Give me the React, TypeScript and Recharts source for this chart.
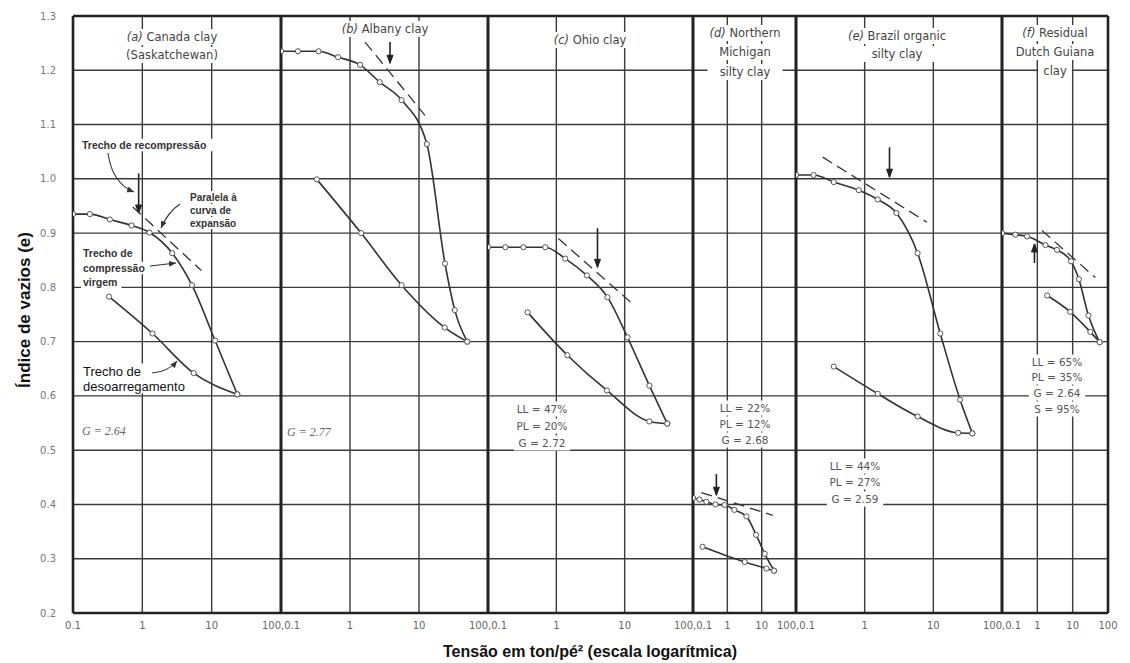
import React from "react";
import { LineChart, Line, XAxis, YAxis, ReferenceLine } from "recharts";

// shared axes
const yTicks = [0.2, 0.3, 0.4, 0.5, 0.6, 0.7, 0.8, 0.9, 1.0, 1.1, 1.2, 1.3];
const yGrid = [0.3, 0.4, 0.5, 0.6, 0.7, 0.8, 0.9, 1.0, 1.1, 1.2];
const xGrid = [1, 10];
const xTicksFirst = [0.1, 1, 10, 100];
const xTicksRest = [1, 10, 100];

// (a) Canada clay (Saskatchewan)
const aLoadX = [0.1, 0.175, 0.34, 0.7, 1.27, 2.7, 5.2, 11.2, 23.4];
const aLoadE = [0.935, 0.935, 0.925, 0.914, 0.901, 0.863, 0.804, 0.702, 0.603];
const aUnloadX = [0.33, 1.4, 5.5, 23.4];
const aUnloadE = [0.783, 0.715, 0.642, 0.603];
const aTangentX = [0.73, 7.1];
const aTangentE = [0.948, 0.831];
const aArrowX = [0.885, 0.885];
const aArrowE = [1.01, 0.937];

// (b) Albany clay
const bLoadX = [0.1, 0.176, 0.35, 0.67, 1.4, 2.7, 5.6, 13, 23.8, 33, 50];
const bLoadE = [1.235, 1.235, 1.235, 1.224, 1.21, 1.178, 1.145, 1.064, 0.844, 0.758, 0.7];
const bUnloadX = [0.33, 1.45, 5.6, 23.6, 50];
const bUnloadE = [0.999, 0.9, 0.804, 0.726, 0.7];
const bTangentX = [1.65, 12.2];
const bTangentE = [1.252, 1.117];
const bArrowX = [3.8, 3.8];
const bArrowE = [1.252, 1.213];

// (c) Ohio clay
const cLoadX = [0.1, 0.18, 0.33, 0.69, 1.35, 2.8, 5.6, 11, 23, 42];
const cLoadE = [0.874, 0.874, 0.874, 0.874, 0.853, 0.822, 0.782, 0.708, 0.619, 0.549];
const cUnloadX = [0.38, 1.45, 5.5, 23, 42];
const cUnloadE = [0.754, 0.675, 0.61, 0.553, 0.549];
const cTangentX = [1.07, 13];
const cTangentE = [0.89, 0.77];
const cArrowX = [4, 4];
const cArrowE = [0.909, 0.837];

// (d) Northern Michigan silty clay
const dLoadX = [0.1, 0.155, 0.245, 0.45, 0.83, 1.6, 3.6, 6.9, 12.3, 23];
const dLoadE = [0.412, 0.409, 0.405, 0.4, 0.399, 0.39, 0.378, 0.344, 0.309, 0.278];
const dUnloadX = [0.19, 3.2, 13.8, 23];
const dUnloadE = [0.322, 0.294, 0.282, 0.278];
const dTangentX = [0.175, 21];
const dTangentE = [0.422, 0.38];
const dArrowX = [0.48, 0.48];
const dArrowE = [0.456, 0.417];

// (e) Brazil organic silty clay
const eLoadX = [0.1, 0.18, 0.355, 0.82, 1.55, 2.9, 5.9, 12.6, 24.5, 37];
const eLoadE = [1.007, 1.007, 0.994, 0.979, 0.962, 0.937, 0.863, 0.715, 0.593, 0.531];
const eUnloadX = [0.355, 1.55, 5.9, 23, 37];
const eUnloadE = [0.654, 0.604, 0.562, 0.532, 0.531];
const eTangentX = [0.245, 8.1];
const eTangentE = [1.04, 0.92];
const eArrowX = [2.3, 2.3];
const eArrowE = [1.058, 1.003];

// (f) Residual Dutch Guiana clay
const fLoadX = [0.1, 0.24, 0.51, 1.7, 3.6, 9, 15, 28, 58];
const fLoadE = [0.9, 0.897, 0.894, 0.878, 0.869, 0.848, 0.815, 0.748, 0.699];
const fUnloadX = [1.9, 8.5, 31.6, 58];
const fUnloadE = [0.785, 0.755, 0.718, 0.699];
const fTangentX = [1.35, 44];
const fTangentE = [0.905, 0.818];
const fArrowX = [0.83, 0.83];
const fArrowE = [0.845, 0.88];

const pts = (xs: number[], es: number[]) => xs.map((x, i) => ({ x, e: es[i] }));

const panels = [
  { id: "a", left: 73, right: 281, load: pts(aLoadX, aLoadE), unload: pts(aUnloadX, aUnloadE), tangent: pts(aTangentX, aTangentE), arrow: pts(aArrowX, aArrowE) },
  { id: "b", left: 281, right: 488, load: pts(bLoadX, bLoadE), unload: pts(bUnloadX, bUnloadE), tangent: pts(bTangentX, bTangentE), arrow: pts(bArrowX, bArrowE) },
  { id: "c", left: 488, right: 693, load: pts(cLoadX, cLoadE), unload: pts(cUnloadX, cUnloadE), tangent: pts(cTangentX, cTangentE), arrow: pts(cArrowX, cArrowE) },
  { id: "d", left: 693, right: 796, load: pts(dLoadX, dLoadE), unload: pts(dUnloadX, dUnloadE), tangent: pts(dTangentX, dTangentE), arrow: pts(dArrowX, dArrowE) },
  { id: "e", left: 796, right: 1002, load: pts(eLoadX, eLoadE), unload: pts(eUnloadX, eUnloadE), tangent: pts(eTangentX, eTangentE), arrow: pts(eArrowX, eArrowE) },
  { id: "f", left: 1002, right: 1108, load: pts(fLoadX, fLoadE), unload: pts(fUnloadX, fUnloadE), tangent: pts(fTangentX, fTangentE), arrow: pts(fArrowX, fArrowE) },
];

const titles: [number, number, string, string][] = [
  [172, 37, "(a)", " Canada clay"], [172, 55, "", "(Saskatchewan)"],
  [385, 29, "(b)", " Albany clay"],
  [590, 40, "(c)", " Ohio clay"],
  [745, 33, "(d)", " Northern"], [745, 52, "", "Michigan"], [745, 72, "", "silty clay"],
  [897, 36, "(e)", " Brazil organic"], [897, 54, "", "silty clay"],
  [1055, 33, "(f)", " Residual"], [1055, 52, "", "Dutch Guiana"], [1055, 71, "", "clay"],
];

const props: [number, number, string][] = [
  [542, 409, "LL = 47%"], [542, 426, "PL = 20%"], [542, 443, "G = 2.72"],
  [745, 408, "LL = 22%"], [745, 424, "PL = 12%"], [745, 440, "G = 2.68"],
  [855, 466, "LL = 44%"], [855, 482, "PL = 27%"], [855, 499, "G = 2.59"],
  [1057, 362, "LL = 65%"], [1057, 377, "PL = 35%"], [1057, 393, "G = 2.64"], [1057, 409, "S = 95%"],
];

const notes: [number, number, string, number, number][] = [
  [82, 145, "Trecho de recompressão", 10.5, 700],
  [190, 197, "Paralela à", 10, 700], [190, 210, "curva de", 10, 700], [190, 223, "expansão", 10, 700],
  [83, 253, "Trecho de", 10.5, 700], [83, 268, "compressão", 10.5, 700], [83, 282, "virgem", 10.5, 700],
  [83, 371, "Trecho de", 13, 400], [83, 386, "desoarregamento", 13, 400],
];

const leaders = [
  "M108,153 Q112,183 134,192",
  "M180,204 Q168,212 161,228",
  "M150,266 L176,263",
  "M152,373 Q168,372 177,361",
];

const makeArrowDot = (down: boolean) => (p: any) => {
  const { cx, cy, index } = p;
  if (index !== 1) return <g key={`ad${index}`} />;
  const d = down ? 1 : -1;
  return (
    <path key={`ad${index}`} d={`M${cx},${cy} L${cx - 3},${cy - 8 * d} L${cx + 3},${cy - 8 * d} Z`} fill="#222" stroke="#222" />
  );
};

const YTick = ({ x, y, payload }: any) => (
  <text x={x} y={y} dy={3.5} textAnchor="end" fontSize={10} fill="#777" fontFamily="DejaVu Sans">
    {payload.value.toFixed(1)}
  </text>
);

const makeXTick = (last: boolean) => ({ x, y, payload }: any) => {
  const v = payload.value;
  const label = v >= 100 ? (last ? "100" : "100,0.1") : v < 1 ? "0.1" : String(v);
  return (
    <text x={x} y={y + 16} textAnchor="middle" fontSize={10} fill="#666" fontFamily="DejaVu Sans">
      {label}
    </text>
  );
};

const PAD = 30;
const H = 663;
const TOP = 16;
const BOTTOM = 613;

const Panel = ({ p, i }: { p: (typeof panels)[number]; i: number }) => {
  const first = i === 0;
  const last = i === panels.length - 1;
  const w = p.right - p.left;
  const chartLeft = first ? 0 : p.left - PAD;
  const chartWidth = first ? p.right + PAD : w + 2 * PAD;
  const down = p.arrow[1].e < p.arrow[0].e;
  return (
    <div style={{ position: "absolute", left: chartLeft, top: 0 }}>
      <LineChart width={chartWidth} height={H} margin={{ top: TOP, right: PAD, bottom: H - BOTTOM - 30, left: first ? 0 : PAD }}>
        <XAxis
          type="number"
          dataKey="x"
          scale="log"
          domain={[0.1, 100]}
          allowDataOverflow
          ticks={first ? xTicksFirst : xTicksRest}
          tick={makeXTick(last)}
          tickSize={0}
          tickMargin={0}
          axisLine={false}
          tickLine={false}
          height={30}
        />
        <YAxis
          type="number"
          dataKey="e"
          domain={[0.2, 1.3]}
          ticks={yTicks}
          allowDataOverflow
          hide={!first}
          width={73}
          tick={<YTick />}
          tickSize={0}
          tickMargin={17}
          axisLine={false}
          tickLine={false}
        />
        {yGrid.map((v) => (
          <ReferenceLine key={`h${v}`} y={v} stroke="#3a3a3a" strokeWidth={1.4} />
        ))}
        {xGrid.map((v) => (
          <ReferenceLine key={`v${v}`} x={v} stroke="#3a3a3a" strokeWidth={1.4} />
        ))}
        <ReferenceLine y={1.3} stroke="#222" strokeWidth={2.4} />
        <ReferenceLine y={0.2} stroke="#222" strokeWidth={2.4} />
        <ReferenceLine x={0.1} stroke="#222" strokeWidth={2.6} />
        <ReferenceLine x={100} stroke="#222" strokeWidth={2.6} />
        <Line
          data={p.tangent}
          dataKey="e"
          type="linear"
          stroke="#333"
          strokeWidth={1.3}
          strokeDasharray="11 6"
          dot={false}
          isAnimationActive={false}
        />
        <Line
          data={p.unload}
          dataKey="e"
          type="monotone"
          stroke="#333"
          strokeWidth={1.6}
          dot={{ r: 2.6, fill: "#fff", stroke: "#555", strokeWidth: 1 }}
          isAnimationActive={false}
        />
        <Line
          data={p.load}
          dataKey="e"
          type="monotone"
          stroke="#333"
          strokeWidth={1.6}
          dot={{ r: 2.6, fill: "#fff", stroke: "#555", strokeWidth: 1 }}
          isAnimationActive={false}
        />
        <Line
          data={p.arrow}
          dataKey="e"
          type="linear"
          stroke="#222"
          strokeWidth={1.6}
          dot={makeArrowDot(down)}
          isAnimationActive={false}
        />
      </LineChart>
    </div>
  );
};

const boxW = (t: string, size: number) => t.length * size * 0.6 + 6;

export default function App() {
  return (
    <div style={{ position: "absolute", left: 0, top: 0, width: 1130, height: H, background: "#fff", overflow: "hidden" }}>
      {panels.map((p, i) => (
        <Panel key={p.id} p={p} i={i} />
      ))}
      <svg width={1130} height={H} style={{ position: "absolute", left: 0, top: 0, pointerEvents: "none" }}>
        <defs>
          <marker id="ah" markerWidth="8" markerHeight="8" refX="7" refY="4" orient="auto" markerUnits="userSpaceOnUse">
            <path d="M0,1 L7,4 L0,7 Z" fill="#333" />
          </marker>
        </defs>
        {titles.map(([x, y, letter, rest], k) => {
          const t = letter + rest;
          const bw = boxW(t, 11.5);
          return (
            <g key={`t${k}`}>
              <rect x={x - bw / 2} y={y - 8} width={bw} height={16} fill="#fff" />
              <text x={x} y={y} dominantBaseline="central" textAnchor="middle" fontSize={11.5} fill="#444" fontFamily="DejaVu Sans">
                {letter && <tspan fontStyle="italic">{letter}</tspan>}
                {rest}
              </text>
            </g>
          );
        })}
        {props.map(([x, y, t], k) => {
          const bw = boxW(t, 10.5);
          return (
            <g key={`p${k}`}>
              <rect x={x - bw / 2} y={y - 7.5} width={bw} height={15} fill="#fff" />
              <text x={x} y={y} dominantBaseline="central" textAnchor="middle" fontSize={10.5} fill="#555" fontFamily="DejaVu Sans">
                {t}
              </text>
            </g>
          );
        })}
        <text x={82} y={431} dominantBaseline="central" fontSize={12} fill="#666" fontFamily="Liberation Serif" fontStyle="italic">
          G = 2.64
        </text>
        <text x={287} y={432} dominantBaseline="central" fontSize={12} fill="#666" fontFamily="Liberation Serif" fontStyle="italic">
          G = 2.77
        </text>
        {notes.map(([x, y, t, size, weight], k) => {
          const bw = t.length * size * (weight > 400 ? 0.58 : 0.53) + 4;
          return (
            <g key={`n${k}`}>
              <rect x={x - 2} y={y - size / 2 - 1} width={bw} height={size + 2} fill="#fff" />
              <text x={x} y={y} dominantBaseline="central" fontSize={size} fontWeight={weight} fill={weight > 400 ? "#333" : "#111"} fontFamily="Liberation Sans">
                {t}
              </text>
            </g>
          );
        })}
        {leaders.map((d, k) => (
          <path key={`l${k}`} d={d} fill="none" stroke="#333" strokeWidth={1.1} markerEnd="url(#ah)" />
        ))}
        <text
          transform="translate(24,310) rotate(-90)"
          textAnchor="middle"
          dominantBaseline="central"
          fontSize={17}
          fontWeight={700}
          fill="#111"
          fontFamily="Liberation Sans"
        >
          Índice de vazios (e)
        </text>
        <text x={590} y={651} textAnchor="middle" dominantBaseline="central" fontSize={16} fontWeight={700} fill="#111" fontFamily="Liberation Sans">
          Tensão em ton/pé² (escala logarítmica)
        </text>
      </svg>
    </div>
  );
}
